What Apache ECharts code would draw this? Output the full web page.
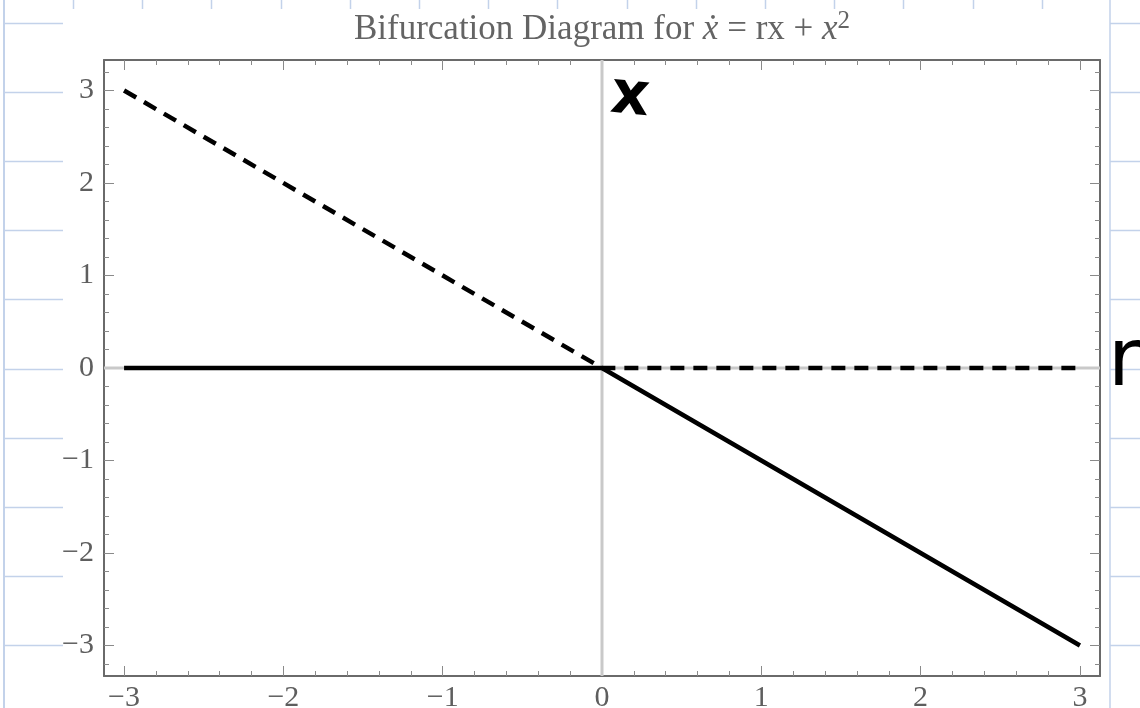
<!DOCTYPE html>
<html>
<head>
<meta charset="utf-8">
<title>Bifurcation Diagram</title>
<script src="https://cdn.jsdelivr.net/npm/echarts@6/dist/echarts.min.js"></script>
<style>
  html, body { margin: 0; padding: 0; background: #ffffff; }
  #chart { width: 1140px; height: 708px; }
</style>
</head>
<body>
<div id="chart"></div>
<script>
// Transcritical bifurcation: fixed points x* = 0 and x* = -r
const rValues = [-3, 0, 3];
const stableBranch = [0, 0, -3];     // solid: x* = 0 for r < 0, x* = -r for r > 0
const unstableBranch = [3, 0, 0];    // dashed: x* = -r for r < 0, x* = 0 for r > 0

const xMajorTicks = [-3, -2, -1, 0, 1, 2, 3];
const yMajorTicks = [-3, -2, -1, 0, 1, 2, 3];

// minor ticks every 0.2 between the majors
function minorTicks(lo, hi) {
  const out = [];
  for (let i = Math.round(lo * 5); i <= Math.round(hi * 5); i++) {
    if (i % 5 !== 0) out.push(i / 5);
  }
  return out;
}
const xMinorTicks = minorTicks(-3, 3);
const yMinorTicks = minorTicks(-3.2, 3.2);

const X_MIN = -3.126, X_MAX = 3.126;
const Y_MIN = -3.33, Y_MAX = 3.33;

const FRAME = '#6a6a6a';
const TICK = '#8a8a8a';
const LABEL = '#5e5e5e';
const TITLE = '#646464';
const SERIF = '"Liberation Serif", "DejaVu Serif", serif';
const minus = v => String(v).replace('-', '\u2212');

function xAxisDef(pos, ticks, len, withLabels, showLine) {
  return {
    type: 'value', position: pos, min: X_MIN, max: X_MAX,
    axisLine: { show: showLine, onZero: false, lineStyle: { color: FRAME, width: 2 } },
    axisTick: { show: true, inside: true, length: len, customValues: ticks, lineStyle: { color: TICK, width: 1 } },
    axisLabel: withLabels ? {
      show: true, customValues: ticks, formatter: minus, margin: 7,
      fontFamily: SERIF, fontSize: 30, color: LABEL
    } : { show: false },
    splitLine: { show: false }
  };
}
function yAxisDef(pos, ticks, len, withLabels, showLine) {
  return {
    type: 'value', position: pos, min: Y_MIN, max: Y_MAX,
    axisLine: { show: showLine, onZero: false, lineStyle: { color: FRAME, width: 2 } },
    axisTick: { show: true, inside: true, length: len, customValues: ticks, lineStyle: { color: TICK, width: 1 } },
    axisLabel: withLabels ? {
      show: true, customValues: ticks, formatter: minus, margin: 10,
      fontFamily: SERIF, fontSize: 30, color: LABEL
    } : { show: false },
    splitLine: { show: false }
  };
}

// notebook paper ruling behind the plot
const RULE = '#c3d2ea';
const paper = [];
paper.push({ type: 'line', shape: { x1: 4, y1: 0, x2: 4, y2: 708 }, style: { stroke: RULE, lineWidth: 2 }, z: -10 });
paper.push({ type: 'line', shape: { x1: 1110, y1: 0, x2: 1110, y2: 708 }, style: { stroke: RULE, lineWidth: 1.5 }, z: -10 });
for (let k = 0; k < 10; k++) {
  const y = Math.round(23 + 69.1 * k) + 0.5;
  paper.push({ type: 'line', shape: { x1: 4, y1: y, x2: 63, y2: y }, style: { stroke: RULE, lineWidth: 1.5 }, z: -10 });
  paper.push({ type: 'line', shape: { x1: 1110, y1: y, x2: 1140, y2: y }, style: { stroke: RULE, lineWidth: 1.5 }, z: -10 });
}
for (let k = 0; k < 15; k++) {
  const x = Math.round(73 + 69.2 * k) + 0.5;
  paper.push({ type: 'line', shape: { x1: x, y1: 0, x2: x, y2: 9 }, style: { stroke: RULE, lineWidth: 1.5 }, z: -10 });
}

const chart = echarts.init(document.getElementById('chart'), null, { renderer: 'canvas' });
chart.setOption({
  animation: false,
  backgroundColor: '#ffffff',
  grid: { left: 104, right: 40, top: 60, bottom: 32, containLabel: false, outerBoundsMode: 'none' },
  xAxis: [
    xAxisDef('bottom', xMajorTicks, 10, true, true),
    xAxisDef('bottom', xMinorTicks, 5, false, false),
    xAxisDef('top', xMajorTicks, 10, false, true),
    xAxisDef('top', xMinorTicks, 5, false, false)
  ],
  yAxis: [
    yAxisDef('left', yMajorTicks, 10, true, true),
    yAxisDef('left', yMinorTicks, 5, false, false),
    yAxisDef('right', yMajorTicks, 10, false, true),
    yAxisDef('right', yMinorTicks, 5, false, false)
  ],
  graphic: paper.concat([
    {
      type: 'text', x: 602, y: 30, z: 10,
      style: {
        text: '{n|Bifurcation Diagram for }{i|x\u0307}{n| = rx + }{i|x}{s|2}',
        align: 'center', verticalAlign: 'middle', fill: TITLE,
        rich: {
          n: { fontFamily: SERIF, fontSize: 35, lineHeight: 42, fill: TITLE },
          i: { fontFamily: SERIF, fontSize: 35, fontStyle: 'italic', lineHeight: 42, fill: TITLE },
          s: { fontFamily: SERIF, fontSize: 25, lineHeight: 26, verticalAlign: 'top', fill: TITLE }
        }
      }
    },
    {
      type: 'text', x: 630, y: 98, rotation: -0.1, z: 10,
      style: { text: 'x', font: 'bold 60px "DejaVu Sans"', fill: '#000000', align: 'center', verticalAlign: 'middle' }
    },
    {
      type: 'text', x: 1108, y: 364, z: 10,
      style: { text: 'r', font: '80px "DejaVu Sans"', fill: '#000000', align: 'left', verticalAlign: 'middle' }
    }
  ]),
  series: [
    {
      // light reference lines through the origin, spanning the frame
      type: 'line', silent: true, z: 1, symbol: 'none',
      data: [[0, Y_MIN], [0, Y_MAX]],
      lineStyle: { color: '#c9c9c9', width: 3, type: 'solid' }
    },
    {
      type: 'line', silent: true, z: 1, symbol: 'none',
      data: [[X_MIN, 0], [X_MAX, 0]],
      lineStyle: { color: '#c9c9c9', width: 3, type: 'solid' }
    },
    {
      name: 'unstable', type: 'line', z: 3,
      data: rValues.map((r, i) => [r, unstableBranch[i]]),
      showSymbol: false, symbol: 'none',
      lineStyle: { color: '#000000', width: 4.5, type: [14, 9], cap: 'butt' }
    },
    {
      name: 'stable', type: 'line', z: 4,
      data: rValues.map((r, i) => [r, stableBranch[i]]),
      showSymbol: false, symbol: 'none',
      lineStyle: { color: '#000000', width: 4.5, type: 'solid', cap: 'butt' }
    }
  ]
});
</script>
</body>
</html>
